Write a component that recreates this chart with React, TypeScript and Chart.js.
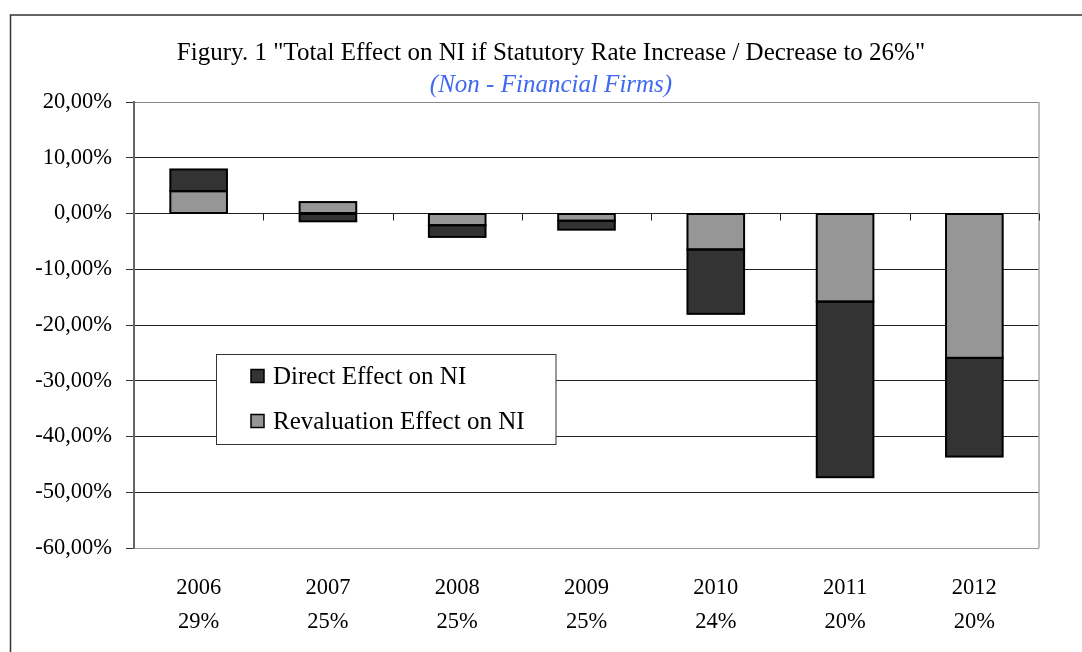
import React, { useEffect, useRef } from "react";
import { Chart, registerables } from "chart.js";

Chart.register(...registerables);

const years = ["2006", "2007", "2008", "2009", "2010", "2011", "2012"];
const rates = ["29%", "25%", "25%", "25%", "24%", "20%", "20%"];
const revaluationEffect = [4.0, 2.05, -2.1, -1.3, -6.45, -15.8, -25.9];
const directEffect = [3.9, -1.4, -2.1, -1.6, -11.55, -31.5, -17.7];
const legendLabels = ["Direct Effect on NI", "Revaluation Effect on NI"];
const titleText = 'Figury. 1 "Total Effect on NI if Statutory Rate Increase / Decrease to 26%"';
const subtitleText = "(Non - Financial Firms)";

const FONT = "'Liberation Serif', 'Times New Roman', serif";
const DARK = "#333333";
const GREY = "#969696";

const decorPlugin = {
  id: "decor",
  beforeDraw(chart: any) {
    const ctx = chart.ctx;
    ctx.save();
    ctx.strokeStyle = "#333";
    ctx.lineWidth = 1.5;
    ctx.beginPath();
    ctx.moveTo(10.5, 652);
    ctx.lineTo(10.5, 15);
    ctx.lineTo(1082, 15);
    ctx.stroke();
    // title
    ctx.fillStyle = "#000";
    ctx.textAlign = "center";
    ctx.textBaseline = "middle";
    ctx.font = `25px ${FONT}`;
    ctx.fillText(titleText, 551, 53);
    ctx.fillStyle = "#4068F0";
    ctx.font = `italic 25px ${FONT}`;
    ctx.fillText(subtitleText, 551, 85);
    ctx.restore();
  },
  beforeDatasetsDraw(chart: any) {
    const ctx = chart.ctx;
    const area = chart.chartArea;
    const x = chart.scales.x;
    const y = chart.scales.y;
    const y0 = y.getPixelForValue(0);
    ctx.save();
    // right border
    ctx.strokeStyle = "#aaa";
    ctx.lineWidth = 1.5;
    ctx.beginPath();
    ctx.moveTo(area.right, area.top);
    ctx.lineTo(area.right, area.bottom);
    ctx.stroke();
    // category ticks at zero line
    ctx.strokeStyle = "#222";
    ctx.lineWidth = 1;
    ctx.beginPath();
    for (let i = 0; i < years.length; i++) {
      const px =
        i < years.length - 1
          ? (x.getPixelForValue(i) + x.getPixelForValue(i + 1)) / 2
          : area.right;
      const rx = Math.round(px) + 0.5;
      ctx.moveTo(rx, y0);
      ctx.lineTo(rx, y0 + 7);
    }
    ctx.stroke();
    ctx.restore();
  },
  afterDatasetsDraw(chart: any) {
    const ctx = chart.ctx;
    ctx.save();
    // bar outlines centred on edges
    ctx.strokeStyle = "#000";
    ctx.lineWidth = 2;
    chart.data.datasets.forEach((_: any, di: number) => {
      const meta = chart.getDatasetMeta(di);
      meta.data.forEach((bar: any) => {
        const left = bar.x - bar.width / 2;
        const top = Math.min(bar.y, bar.base);
        const h = Math.abs(bar.base - bar.y);
        ctx.strokeRect(left, top, bar.width, h);
      });
    });
    // legend
    const bx = 216.5, by = 354.5, bw = 339.5, bh = 90;
    ctx.fillStyle = "#fff";
    ctx.fillRect(bx, by, bw, bh);
    ctx.strokeStyle = "#333";
    ctx.lineWidth = 1;
    ctx.strokeRect(bx, by, bw, bh);
    const colors = [DARK, GREY];
    const ys = [376, 421];
    ctx.font = `25px ${FONT}`;
    ctx.textBaseline = "middle";
    ctx.textAlign = "left";
    legendLabels.forEach((lab, i) => {
      ctx.fillStyle = colors[i];
      ctx.fillRect(251, ys[i] - 6.5, 13, 13);
      ctx.strokeStyle = "#000";
      ctx.lineWidth = 1.5;
      ctx.strokeRect(251, ys[i] - 6.5, 13, 13);
      ctx.fillStyle = "#000";
      ctx.fillText(lab, 273, ys[i] + 1);
    });
    ctx.restore();
  },
};

export default function App() {
  const ref = useRef<HTMLCanvasElement>(null);
  useEffect(() => {
    document.body.style.margin = "0";
    document.body.style.overflow = "hidden";
    const labels = years.map((yr, i) => [yr, rates[i]]);
    const chart = new Chart(ref.current as HTMLCanvasElement, {
      type: "bar",
      data: {
        labels,
        datasets: [
          {
            label: legendLabels[1],
            data: revaluationEffect,
            backgroundColor: GREY,
            borderWidth: 0,
            barPercentage: 0.438,
            categoryPercentage: 1,
          },
          {
            label: legendLabels[0],
            data: directEffect,
            backgroundColor: DARK,
            borderWidth: 0,
            barPercentage: 0.438,
            categoryPercentage: 1,
          },
        ],
      },
      options: {
        animation: false,
        responsive: true,
        maintainAspectRatio: false,
        layout: { padding: { left: 0, top: 102, right: 43, bottom: 0 } },
        plugins: {
          legend: { display: false },
          title: { display: false },
          tooltip: { enabled: false },
        },
        scales: {
          x: {
            stacked: true,
            grid: { display: false },
            border: { display: false },
            ticks: {
              color: "#000",
              font: { family: FONT, size: 22.5, lineHeight: 1.47 },
              padding: 16,
              maxRotation: 0,
              autoSkip: false,
            },
            afterFit: (s: any) => {
              s.height = 104;
            },
          },
          y: {
            stacked: true,
            min: -60,
            max: 20,
            ticks: {
              stepSize: 10,
              color: "#000",
              font: { family: FONT, size: 22.5 },
              padding: 14,
              callback: (v: any) => Number(v).toFixed(2).replace(".", ",") + "%",
            },
            grid: {
              color: (c: any) =>
                c.tick && c.tick.value === 20
                  ? "#888"
                  : c.tick && c.tick.value === -60
                  ? "#999"
                  : "#222",
              tickColor: "#333",
              tickLength: 8,
              lineWidth: 1,
            },
            border: { color: "#666", width: 2 },
            afterFit: (s: any) => {
              s.width = 134;
            },
          },
        },
      },
      plugins: [decorPlugin],
    });
    return () => chart.destroy();
  }, []);
  return (
    <div style={{ position: "relative", width: "1082px", height: "652px" }}>
      <canvas ref={ref} />
    </div>
  );
}
